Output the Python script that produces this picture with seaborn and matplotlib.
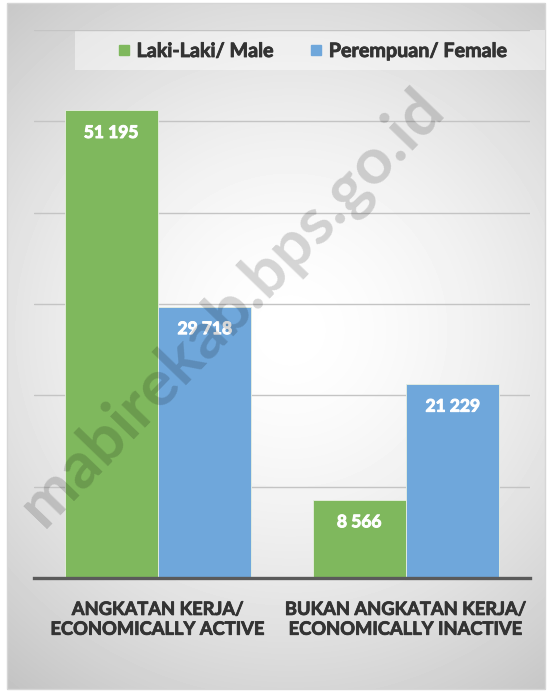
import numpy as np
import pandas as pd
import matplotlib.pyplot as plt
import matplotlib.patches as mpatches
import matplotlib.patheffects as pe
from matplotlib.lines import Line2D
import seaborn as sns

categories = ["ANGKATAN KERJA/\nECONOMICALLY ACTIVE", "BUKAN ANGKATAN KERJA/\nECONOMICALLY INACTIVE"]
series = ["Laki-Laki/ Male", "Perempuan/ Female"]
male = [51195, 8566]
female = [29718, 21229]
colors = ["#7fb85d", "#6fa7db"]

df = pd.DataFrame({
    "category": categories * 2,
    "sex": [series[0]] * 2 + [series[1]] * 2,
    "value": male + female,
})

sns.set_style("white")
plt.rcParams["font.family"] = ["Lato", "DejaVu Sans"]

W, H = 550, 692
fig = plt.figure(figsize=(W / 100, H / 100), dpi=100)

# background with soft radial gradient
bg = fig.add_axes([0, 0, 1, 1], zorder=-10)
yy, xx = np.mgrid[0:H, 0:W]
d = np.sqrt((xx - 290) ** 2 + (yy - 330) ** 2) / 460
img = 1 - 0.24 * np.clip(d, 0, 1.2) ** 1.6
img[(xx < 7) | (xx > 545) | (yy < 3) | (yy > 689)] = 1
bg.imshow(img, cmap="gray", vmin=0, vmax=1, extent=(0, W, H, 0), aspect="auto")
bg.add_patch(mpatches.Rectangle((7, 3), 538, 686, fill=False, ec="#d6d6d6", lw=1))
bg.add_patch(mpatches.Rectangle((75, 30), 470, 40, fc="white", alpha=0.45, lw=0))
bg.set_xlim(0, W)
bg.set_ylim(H, 0)
bg.axis("off")

ax = fig.add_axes([34 / W, 1 - 578 / H, 496 / W, 548 / H])
ax.set_facecolor("none")
sns.barplot(data=df, x="category", y="value", hue="sex", palette=colors,
            saturation=1, width=0.754, edgecolor="#e8f0e0", linewidth=0.6,
            legend=False, ax=ax, zorder=2)

# thicker strokes so the bold text looks closer to the original
thick_white = [pe.withStroke(linewidth=0.7, foreground="white")]
thick_dark = [pe.withStroke(linewidth=0.6, foreground="#333333")]

for cont in ax.containers:
    labels = [f"{int(v):,}".replace(",", " ") for v in cont.datavalues]
    texts = ax.bar_label(cont, labels=labels, padding=-22, color="white",
                         fontsize=12.5, fontweight="bold")
    for t in texts:
        t.set_path_effects(thick_white)

ax.set_ylim(0, 60000)
ax.set_yticks(np.arange(0, 60001, 10000))
ax.yaxis.grid(True, color="#c4c4c4", lw=1)
ax.set_axisbelow(True)
ax.tick_params(axis="y", left=False, labelleft=False)
ax.tick_params(axis="x", bottom=False, pad=13)
for lab in ax.get_xticklabels():
    lab.set_fontsize(13.2)
    lab.set_fontweight("bold")
    lab.set_color("#333333")
    lab.set_linespacing(1.2)
    lab.set_path_effects(thick_dark)
ax.set_xlabel("")
ax.set_ylabel("")
for s in ["top", "right", "left"]:
    ax.spines[s].set_visible(False)
ax.spines["bottom"].set_color("#5a5a5a")
ax.spines["bottom"].set_linewidth(2.4)
ax.spines["bottom"].set_zorder(3)

handles = [Line2D([], [], marker="s", ls="", markersize=7, color=c) for c in colors]
leg = fig.legend(handles, series, loc="center", bbox_to_anchor=(312 / W, 1 - 51 / H),
                 ncol=2, frameon=False, handlelength=0.8, handletextpad=0.25,
                 columnspacing=1.7, prop={"weight": "bold", "size": 14.2},
                 labelcolor="#333333")
for t in leg.get_texts():
    t.set_path_effects(thick_dark)

fig.text(232 / W, 1 - 308 / H, "mabirekab.bps.go.id", rotation=46, fontsize=47,
         fontweight="bold", color="black", alpha=0.16, ha="center", va="center",
         zorder=20)

fig.savefig("out.png", dpi=100)
